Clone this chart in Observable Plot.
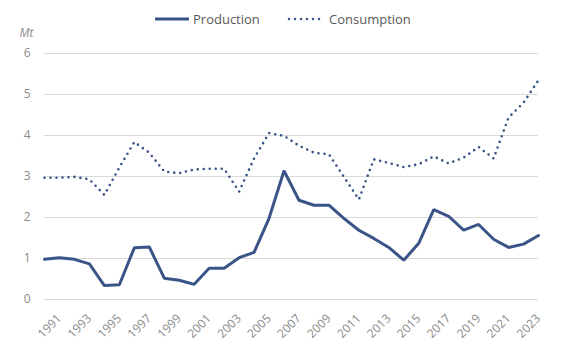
<!DOCTYPE html>
<html><head><meta charset="utf-8">
<script src="https://cdn.jsdelivr.net/npm/d3@7"></script>
<script src="https://cdn.jsdelivr.net/npm/@observablehq/plot@0.6"></script>
<style>
body{margin:0;background:#fff;font-family:"Open Sans",sans-serif;}
#wrap{position:relative;width:564px;height:351px;overflow:hidden;}
.lg{position:absolute;font-size:13px;color:#595959;line-height:16px;white-space:nowrap;}
.sw{position:absolute;}
</style></head>
<body>
<div id="wrap">
  <div id="chart"></div>
  <svg class="sw" style="left:154px;top:16px" width="36" height="6"><line x1="1" y1="3" x2="35" y2="3" stroke="#3b5487" stroke-width="3"/></svg>
  <div class="lg" style="left:193px;top:11px">Production</div>
  <svg class="sw" style="left:286px;top:16px" width="36" height="6"><line x1="3" y1="3" x2="34" y2="3" stroke="#3b5487" stroke-width="2.6" stroke-linecap="round" stroke-dasharray="0 6"/></svg>
  <div class="lg" style="left:329px;top:11px">Consumption</div>
</div>
<script>
const years = [1990,1991,1992,1993,1994,1995,1996,1997,1998,1999,2000,2001,2002,2003,2004,2005,2006,2007,2008,2009,2010,2011,2012,2013,2014,2015,2016,2017,2018,2019,2020,2021,2022,2023];
const production = [0.98,1.02,0.98,0.87,0.34,0.36,1.26,1.28,0.52,0.47,0.37,0.76,0.76,1.02,1.15,1.98,3.14,2.42,2.30,2.30,1.98,1.69,1.49,1.27,0.96,1.37,2.19,2.03,1.69,1.83,1.47,1.27,1.35,1.56];
const consumption = [2.97,2.97,2.99,2.93,2.55,3.22,3.84,3.58,3.12,3.08,3.17,3.19,3.19,2.63,3.44,4.06,3.99,3.75,3.58,3.54,2.99,2.44,3.42,3.33,3.23,3.30,3.49,3.32,3.46,3.72,3.44,4.44,4.80,5.35];
const yTicks = [0,1,2,3,4,5,6];
const xTicks = [1991,1993,1995,1997,1999,2001,2003,2005,2007,2009,2011,2013,2015,2017,2019,2021,2023];
const unitLabel = "Mt";

const prodData = years.map((y,i)=>({year:y, value:production[i]}));
const consData = years.map((y,i)=>({year:y, value:consumption[i]}));
const color = "#3b5487";

const chart = Plot.plot({
  width:564, height:351,
  marginLeft:44, marginRight:26, marginTop:53, marginBottom:52,
  style:{fontFamily:"'Open Sans', sans-serif", fontSize:"12px", color:"#8a8a8a", background:"transparent"},
  x:{domain:[1990,2023]},
  y:{domain:[0,6]},
  marks:[
    Plot.ruleY(yTicks,{stroke:"#d9d9d9", strokeWidth:1}),
    Plot.axisY({ticks:yTicks, tickSize:0, tickPadding:14, tickFormat:"d", label:null}),
    Plot.axisX({ticks:xTicks, tickSize:0, tickRotate:-45, tickFormat:"d", tickPadding:17, label:null}),
    Plot.lineY(consData,{x:"year", y:"value", stroke:color, strokeWidth:2.6, strokeLinecap:"round", strokeDasharray:"0 6"}),
    Plot.lineY(prodData,{x:"year", y:"value", stroke:color, strokeWidth:3, strokeLinejoin:"miter"}),
    Plot.text([unitLabel],{frameAnchor:"top-left", dx:-18, dy:-25, textAnchor:"middle", fontStyle:"italic", fontSize:12, fill:"#8a8a8a"})
  ]
});
document.getElementById("chart").appendChild(chart);
</script>
</body></html>
